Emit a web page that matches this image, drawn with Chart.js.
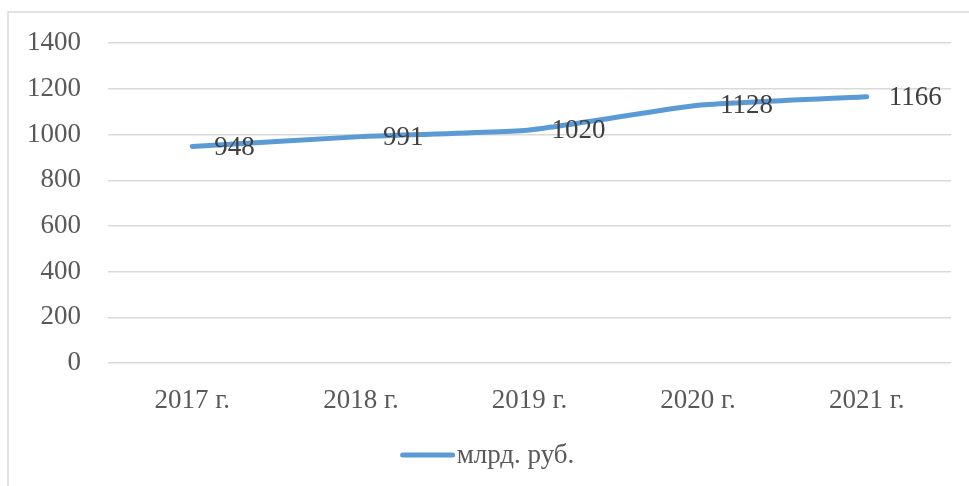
<!DOCTYPE html>
<html>
<head>
<meta charset="utf-8">
<script src="https://cdn.jsdelivr.net/npm/chart.js@4.4.0/dist/chart.umd.min.js"></script>
<style>
  html, body { margin: 0; padding: 0; background: #fff; }
  #wrap { position: absolute; left: 0; top: 0; width: 969px; height: 486px; }
</style>
</head>
<body>
<div id="wrap"><canvas id="grafico"></canvas></div>
<script>
// datos
var anios = ['2017 г.', '2018 г.', '2019 г.', '2020 г.', '2021 г.']
var valores = [948, 991, 1020, 1128, 1166]
var serie_nombre = 'млрд. руб.'

var fuente = 'Liberation Serif, Times New Roman, serif'
var tam = 27

// marco gris a la izquierda y arriba
const marco = {
  id: 'marco',
  beforeDraw(chart) {
    const c = chart.ctx
    c.save()
    c.fillStyle = '#ffffff'
    c.fillRect(0, 0, chart.width, chart.height)
    c.strokeStyle = '#d9d9d9'
    c.lineWidth = 1.5
    c.beginPath()
    c.moveTo(8, chart.height)
    c.lineTo(8, 12)
    c.lineTo(chart.width, 12)
    c.stroke()
    c.restore()
  }
}

// etiquetas de valores a la derecha de cada punto + leyenda abajo
const etiquetas = {
  id: 'etiquetas',
  afterDatasetsDraw(chart) {
    const c = chart.ctx
    const ds = chart.data.datasets[0]
    const meta = chart.getDatasetMeta(0)
    c.save()
    c.font = tam + 'px ' + fuente
    c.fillStyle = '#404040'
    c.textAlign = 'left'
    c.textBaseline = 'middle'
    meta.data.forEach(function(p, i) {
      c.fillText(ds.data[i], p.x + 22, p.y + 1)
    })

    // leyenda
    var w = c.measureText(ds.label).width
    var largo = 50, hueco = 4
    var x0 = (chart.width + 8) / 2 - (largo + hueco + w) / 2
    var y0 = 455
    c.strokeStyle = ds.borderColor
    c.lineWidth = ds.borderWidth
    c.lineCap = 'round'
    c.beginPath()
    c.moveTo(x0, y0)
    c.lineTo(x0 + largo, y0)
    c.stroke()
    c.fillStyle = '#595959'
    c.fillText(ds.label, x0 + largo + hueco, y0 + 1)
    c.restore()
  }
}

new Chart(document.getElementById('grafico'), {
  type: 'line',
  data: {
    labels: anios,
    datasets: [{
      label: serie_nombre,
      data: valores,
      borderColor: '#5b9bd5',
      backgroundColor: '#5b9bd5',
      borderWidth: 5,
      borderCapStyle: 'round',
      pointRadius: 0,
      tension: 0.15
    }]
  },
  options: {
    responsive: true,
    maintainAspectRatio: false,
    animation: false,
    layout: { padding: { left: 8, top: 40, right: 18, bottom: 53 } },
    plugins: {
      tooltip: { enabled: false },
      legend: { display: false }
    },
    scales: {
      x: {
        offset: true,
        grid: { display: false, drawTicks: false },
        border: { display: false },
        ticks: { color: '#595959', padding: 22, font: { family: fuente, size: tam }, maxRotation: 0 },
        afterFit: function(s) { s.height = 70 }
      },
      y: {
        min: 0,
        max: 1400,
        ticks: {
          stepSize: 200,
          color: '#595959',
          padding: 27,
          font: { family: fuente, size: tam },
          callback: function(v) { return String(v) }
        },
        grid: { color: '#d9d9d9', lineWidth: 1.5, drawTicks: false },
        border: { display: false },
        afterFit: function(s) { s.width = 100 }
      }
    }
  },
  plugins: [marco, etiquetas]
});
</script>
</body>
</html>
